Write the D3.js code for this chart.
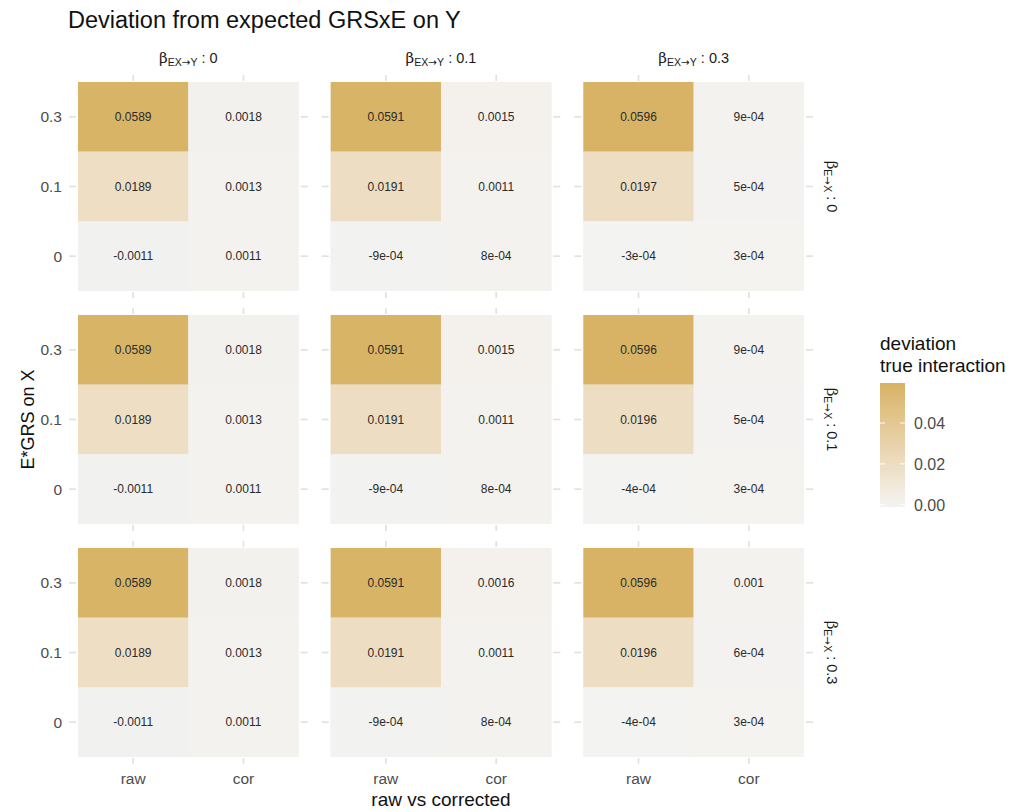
<!DOCTYPE html>
<html><head><meta charset="utf-8">
<script src="https://cdn.jsdelivr.net/npm/d3@7"></script>
<style>body{margin:0;background:#fff}svg{display:block}text{font-family:"Liberation Sans",Arial,Helvetica,sans-serif}</style>
</head><body>
<svg id="c" width="1014" height="812"></svg>
<script>
// ---- data ----
const colFacets = ["0", "0.1", "0.3"];      // beta EX->Y
const rowFacets = ["0", "0.1", "0.3"];      // beta E->X
const methods = ["raw", "cor"];
const grsLevels = ["0.3", "0.1", "0"];      // E*GRS on X (top to bottom)
// values per row facet: [colFacet][0.3, 0.1, 0]
const rawRow0 = [[0.0589, 0.0189, -0.0011], [0.0591, 0.0191, -0.0009], [0.0596, 0.0197, -0.0003]];
const corRow0 = [[0.0018, 0.0013, 0.0011], [0.0015, 0.0011, 0.0008], [0.0009, 0.0005, 0.0003]];
const rawRow1 = [[0.0589, 0.0189, -0.0011], [0.0591, 0.0191, -0.0009], [0.0596, 0.0196, -0.0004]];
const corRow1 = [[0.0018, 0.0013, 0.0011], [0.0015, 0.0011, 0.0008], [0.0009, 0.0005, 0.0003]];
const rawRow2 = [[0.0589, 0.0189, -0.0011], [0.0591, 0.0191, -0.0009], [0.0596, 0.0196, -0.0004]];
const corRow2 = [[0.0018, 0.0013, 0.0011], [0.0016, 0.0011, 0.0008], [0.0010, 0.0006, 0.0003]];
const legendTicks = [0, 0.02, 0.04];

const rawAll = [rawRow0, rawRow1, rawRow2];
const corAll = [corRow0, corRow1, corRow2];
const cells = [];
rowFacets.forEach((rf, ri) => colFacets.forEach((cf, ci) => {
  grsLevels.forEach((g, gi) => {
    cells.push({ri, ci, method: "raw", grs: g, v: rawAll[ri][ci][gi]});
    cells.push({ri, ci, method: "cor", grs: g, v: corAll[ri][ci][gi]});
  });
}));

function fmt(v) {
  if (v !== 0 && Math.abs(v) < 0.001) {
    const e = v.toExponential(0);
    return e.replace(/e([+-])(\d)$/, "e$10$2");
  }
  return String(+v.toFixed(4));
}

const svg = d3.select("#c");

const vmax = d3.max(cells, d => d.v), vmin = d3.min(cells, d => d.v);
const lim = Math.max(Math.abs(vmin), Math.abs(vmax));
const color = d3.scaleLinear().domain([-lim, 0, lim])
  .range(["#5ab4ac", "#f4f3f1", "#d8b365"]).interpolate(d3.interpolateLab);

const fx = d3.scaleBand().domain(colFacets).range([78, 804]).paddingInner(32 / 252.67);
const fy = d3.scaleBand().domain(rowFacets).range([82, 757]).paddingInner(24 / 233);
const x = d3.scaleBand().domain(methods).range([0, fx.bandwidth()]);
const y = d3.scaleBand().domain(grsLevels).range([0, fy.bandwidth()]);

// title
svg.append("text").attr("x", 68).attr("y", 28).attr("font-size", 23.5).attr("fill", "#111")
  .text("Deviation from expected GRSxE on Y");

const tickC = "#e0e0e0", tickL = 7;

rowFacets.forEach((rf, ri) => colFacets.forEach((cf, ci) => {
  const g = svg.append("g").attr("transform", `translate(${fx(cf)},${fy(rf)})`);
  const W = fx.bandwidth(), H = fy.bandwidth();
  g.append("rect").attr("width", W).attr("height", H).attr("fill", "#f0f0f0");
  const cs = cells.filter(d => d.ri === ri && d.ci === ci);
  g.selectAll("rect.tile").data(cs).join("rect").attr("class", "tile")
    .attr("x", d => x(d.method)).attr("y", d => y(d.grs))
    .attr("width", x.bandwidth()).attr("height", y.bandwidth())
    .attr("fill", d => color(d.v));
  g.selectAll("text.lab").data(cs).join("text").attr("class", "lab")
    .attr("x", d => x(d.method) + x.bandwidth() / 2)
    .attr("y", d => y(d.grs) + y.bandwidth() / 2)
    .attr("dy", "0.35em").attr("text-anchor", "middle")
    .attr("font-size", 12).attr("fill", "#2b2b2b").text(d => fmt(d.v));
  const tk = g.append("g").attr("stroke", tickC).attr("stroke-width", 1.6);
  methods.forEach(m => {
    const cx = x(m) + x.bandwidth() / 2;
    tk.append("line").attr("x1", cx).attr("x2", cx).attr("y1", -tickL).attr("y2", -1);
    tk.append("line").attr("x1", cx).attr("x2", cx).attr("y1", H + 1).attr("y2", H + tickL);
  });
  grsLevels.forEach(l => {
    const cy = y(l) + y.bandwidth() / 2;
    tk.append("line").attr("y1", cy).attr("y2", cy).attr("x1", -tickL - 2).attr("x2", -2);
    tk.append("line").attr("y1", cy).attr("y2", cy).attr("x1", W + 2).attr("x2", W + tickL + 2);
  });
  if (ci === 0) {
    grsLevels.forEach(l => {
      g.append("text").attr("x", -16).attr("y", y(l) + y.bandwidth() / 2).attr("dy", "0.36em")
        .attr("text-anchor", "end").attr("font-size", 15.5).attr("fill", "#4d4d4d").text(l);
    });
  }
  if (ri === rowFacets.length - 1) {
    methods.forEach(m => {
      g.append("text").attr("x", x(m) + x.bandwidth() / 2).attr("y", H + 27)
        .attr("text-anchor", "middle").attr("font-size", 15.5).attr("fill", "#4d4d4d").text(m);
    });
  }
}));

function strip(t, sub, val) {
  t.append("tspan").attr("font-family", '"DejaVu Serif",serif').attr("font-size", 15).text("β");
  t.append("tspan").attr("font-size", 10.5).attr("dy", 3).text(sub[0]);
  t.append("tspan").attr("font-size", 10.5).attr("font-family", '"DejaVu Sans",sans-serif').text("→");
  t.append("tspan").attr("font-size", 10.5).text(sub[1]);
  t.append("tspan").attr("dy", -3).text(" : " + val);
}
colFacets.forEach(cf => {
  const t = svg.append("text").attr("x", fx(cf) + fx.bandwidth() / 2).attr("y", 63)
    .attr("text-anchor", "middle").attr("font-size", 14.5).attr("fill", "#1a1a1a");
  strip(t, ["EX", "Y"], cf);
});
rowFacets.forEach(rf => {
  const cx = 832, cy = fy(rf) + fy.bandwidth() / 2;
  const t = svg.append("text").attr("transform", `translate(${cx},${cy}) rotate(90)`)
    .attr("text-anchor", "middle").attr("dy", "0.35em").attr("font-size", 14.5).attr("fill", "#1a1a1a");
  strip(t, ["E", "X"], rf);
});

svg.append("text").attr("x", (78 + 804) / 2).attr("y", 806).attr("text-anchor", "middle")
  .attr("font-size", 19).attr("fill", "#111").text("raw vs corrected");
svg.append("text").attr("transform", `translate(34,${(82 + 757) / 2}) rotate(-90)`)
  .attr("text-anchor", "middle").attr("font-size", 18).attr("fill", "#111").text("E*GRS on X");

const lg = svg.append("g");
lg.append("text").attr("x", 880).attr("y", 350).attr("font-size", 19).attr("fill", "#111").text("deviation");
lg.append("text").attr("x", 880).attr("y", 372).attr("font-size", 19).attr("fill", "#111").text("true interaction");
const ly = d3.scaleLinear().domain([vmin, vmax]).range([507, 383]);
const defs = svg.append("defs");
const grad = defs.append("linearGradient").attr("id", "lgd").attr("x1", 0).attr("x2", 0).attr("y1", 1).attr("y2", 0);
d3.range(0, 1.0001, 0.05).forEach(t => {
  grad.append("stop").attr("offset", t).attr("stop-color", color(vmin + t * (vmax - vmin)));
});
lg.append("rect").attr("x", 880).attr("y", ly(vmax)).attr("width", 25).attr("height", ly(vmin) - ly(vmax))
  .attr("fill", "url(#lgd)");
legendTicks.forEach(v => {
  lg.append("line").attr("x1", 880).attr("x2", 885).attr("y1", ly(v)).attr("y2", ly(v)).attr("stroke", "#fff").attr("stroke-width", 1);
  lg.append("line").attr("x1", 900).attr("x2", 905).attr("y1", ly(v)).attr("y2", ly(v)).attr("stroke", "#fff").attr("stroke-width", 1);
  lg.append("text").attr("x", 914).attr("y", ly(v)).attr("dy", "0.36em").attr("font-size", 16)
    .attr("fill", "#4d4d4d").text(v.toFixed(2));
});
</script>
</body></html>
